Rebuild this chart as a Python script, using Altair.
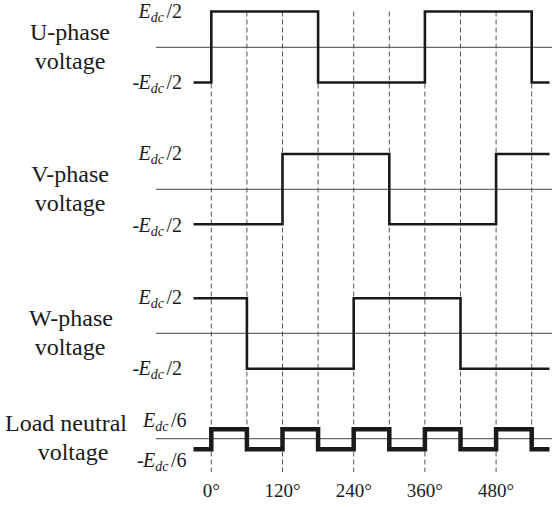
import altair as alt
import pandas as pd

# ---------------- data ----------------
# switching instants (deg) bounding each 60-degree interval, plus the plotted ends
edges = [-30, 0, 60, 120, 180, 240, 300, 360, 420, 480, 540, 570]
# level in each interval: +1 = +Edc/2 (phases) or +Edc/6 (neutral), -1 = negative
u_level = [-1, 1, 1, 1, -1, -1, -1, 1, 1, 1, -1]
v_level = [-1, -1, -1, 1, 1, 1, -1, -1, -1, 1, 1]
w_level = [1, 1, -1, -1, -1, 1, 1, 1, -1, -1, -1]
n_level = [-1, 1, -1, 1, -1, 1, -1, 1, -1, 1, -1]

tick_angles = [0, 120, 240, 360, 480]
tick_labels = ["0°", "120°", "240°", "360°", "480°"]
grid_angles = [0, 60, 120, 180, 240, 300, 360, 420, 480, 540]

panel_keys = ["U", "V", "W", "N"]
panel_names = [["U-phase", "voltage"], ["V-phase", "voltage"],
               ["W-phase", "voltage"], ["Load neutral", "voltage"]]
panel_levels = [u_level, v_level, w_level, n_level]
level_denoms = ["2", "2", "2", "6"]

# ---------------- layout (pixels) ----------------
W, H = 552, 507
X0, PPD = 211.3, 320.4 / 540.0


def deg(px):
    return (px - X0) / PPD


lay = {
    "U": dict(top=11.5, bot=82.5, zero=47.3, name_x=[70, 70]),
    "V": dict(top=154.0, bot=224.3, zero=189.3, name_x=[70, 70]),
    "W": dict(top=298.3, bot=368.7, zero=333.3, name_x=[71, 70]),
    "N": dict(top=429.3, bot=449.3, zero=438.7, name_x=[66, 73]),
}
lab_y = {"U": (11.5, 82.5), "V": (154.0, 225.5), "W": (298.3, 368.7), "N": (421.0, 461.0)}
lab_x = {"U": 138.5, "V": 138.5, "W": 138.5, "N": 143.0}
name_y = {"U": (33, 62), "V": (175, 204), "W": (319, 348), "N": (424, 453)}

xscale = alt.Scale(domain=[deg(0), deg(W)], nice=False, zero=False)
yscale = alt.Scale(domain=[0, H], reverse=True, nice=False, zero=False)
FONT = "Liberation Serif"
INK = "#1a1a1a"


def X(f):
    return alt.X(f, type="quantitative", scale=xscale, axis=None)


def Y(f):
    return alt.Y(f, type="quantitative", scale=yscale, axis=None)


# waveform table
rows = []
for key, levels in zip(panel_keys, panel_levels):
    L = lay[key]
    for i, a in enumerate(edges):
        lev = levels[min(i, len(levels) - 1)]
        rows.append(dict(panel=key, angle=a, y=L["top"] if lev > 0 else L["bot"]))
wave = pd.DataFrame(rows)

# dashed guides
grid = pd.DataFrame([
    dict(angle=a, y1=lay["U"]["top"], y2=472.0 if a % 120 == 0 else lay["N"]["top"])
    for a in grid_angles
])

# zero lines
zeros = pd.DataFrame([
    dict(x1=deg(156), x2=deg(W), y=lay[k]["zero"]) for k in panel_keys
])

# panel names
names = []
for k, nm in zip(panel_keys, panel_names):
    for j, line in enumerate(nm):
        names.append(dict(x=deg(lay[k]["name_x"][j]), y=name_y[k][j], t=line))
names = pd.DataFrame(names)

# level labels  (E_dc/2 style, built from parts)
ital, reg = [], []
for k, d in zip(panel_keys, level_denoms):
    ex = lab_x[k]
    for sign, yc in zip(["+", "-"], lab_y[k]):
        base = yc + 6.0
        ital.append(dict(x=deg(ex), y=base, t="E", fs=20))
        ital.append(dict(x=deg(ex + 12.3), y=base + 4.0, t="dc", fs=14))
        reg.append(dict(x=deg(ex + 28.0), y=base, t="/" + d, fs=20))
        if sign == "-":
            reg.append(dict(x=deg(ex - 6.0), y=base, t="-", fs=20))
ital = pd.DataFrame(ital)
reg = pd.DataFrame(reg)

ticks = pd.DataFrame(dict(angle=tick_angles, t=tick_labels, y=[491] * len(tick_angles)))

# ---------------- layers ----------------
grid_layer = alt.Chart(grid).mark_rule(
    color="#555555", strokeWidth=1, strokeDash=[5, 3]
).encode(x=X("angle"), y=Y("y1"), y2="y2")

zero_layer = alt.Chart(zeros).mark_rule(color="#444444", strokeWidth=1).encode(
    x=X("x1"), x2="x2", y=Y("y")
)

phase_layer = alt.Chart(wave[wave.panel != "N"]).mark_line(
    interpolate="step-after", color=INK, strokeWidth=2.6,
    strokeJoin="miter", strokeCap="butt"
).encode(x=X("angle"), y=Y("y"), detail="panel:N", order="angle:Q")

neutral_layer = alt.Chart(wave[wave.panel == "N"]).mark_line(
    interpolate="step-after", color=INK, strokeWidth=4.5,
    strokeJoin="miter", strokeCap="butt"
).encode(x=X("angle"), y=Y("y"), order="angle:Q")

name_layer = alt.Chart(names).mark_text(
    font=FONT, fontSize=24, color=INK, align="center", baseline="middle"
).encode(x=X("x"), y=Y("y"), text="t:N")

ital_layer = alt.Chart(ital).mark_text(
    font=FONT, fontStyle="italic", color=INK, align="left", baseline="alphabetic"
).encode(x=X("x"), y=Y("y"), text="t:N", size=alt.Size("fs:Q", scale=None))

reg_layer = alt.Chart(reg).mark_text(
    font=FONT, color=INK, align="left", baseline="alphabetic"
).encode(x=X("x"), y=Y("y"), text="t:N", size=alt.Size("fs:Q", scale=None))

tick_layer = alt.Chart(ticks).mark_text(
    font=FONT, fontSize=19, color=INK, align="center", baseline="middle"
).encode(x=X("angle"), y=Y("y"), text="t:N")

chart = alt.layer(
    grid_layer, zero_layer, phase_layer, neutral_layer,
    name_layer, ital_layer, reg_layer, tick_layer
).properties(
    width=W, height=H, padding=0, autosize="none", background="white"
).configure_view(stroke=None)

chart.save("out.html", embed_options={"renderer": "svg", "actions": False})
